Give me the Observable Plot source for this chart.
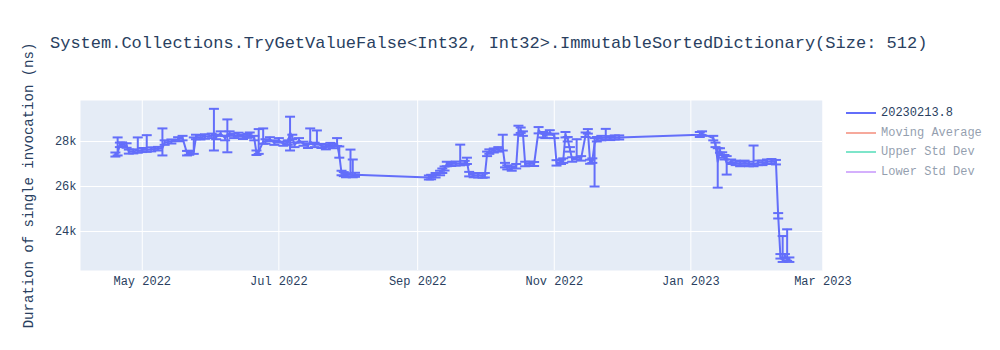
<!DOCTYPE html>
<html><head><meta charset="utf-8">
<script src="https://cdn.jsdelivr.net/npm/d3@7"></script>
<script src="https://cdn.jsdelivr.net/npm/@observablehq/plot@0.6"></script>
<style>
body{margin:0;background:#fff;}
#wrap{position:relative;width:1000px;height:350px;font-family:"Liberation Mono",monospace;}
#chart{position:absolute;left:0;top:0;}
#title{position:absolute;left:50px;top:34px;font-size:17px;color:#2a3f5f;white-space:pre;}
#legend{position:absolute;left:846px;top:103px;font-size:12px;color:#2a3f5f;}
.item{display:flex;align-items:center;height:19.7px;white-space:pre;}
.sw{width:30px;height:2px;margin-right:5px;}
#chart svg [aria-label="y-axis label"] text{font-size:14px;}
</style></head>
<body><div id="wrap"><div id="chart"></div><div id="title"></div><div id="legend"></div></div>
<script>
const titleText = "System.Collections.TryGetValueFalse<Int32, Int32>.ImmutableSortedDictionary(Size: 512)";
const yLabel = "Duration of single invocation (ns)";
const seriesNames = ["20230213.8", "Moving Average", "Upper Std Dev", "Lower Std Dev"];
const seriesColors = ["#636EFA", "#EF553B", "#00CC96", "#AB63FA"];
const seriesVisible = [true, false, false, false];
const xTicks = ["2022-05-01", "2022-07-01", "2022-09-01", "2022-11-01", "2023-01-01", "2023-03-01"];
const yTicks = [24000, 26000, 28000];

const dates = [
"2022-04-19","2022-04-20","2022-04-21","2022-04-22","2022-04-24","2022-04-25","2022-04-27","2022-04-29","2022-05-01","2022-05-03",
"2022-05-05","2022-05-08","2022-05-10","2022-05-11","2022-05-14","2022-05-17","2022-05-19","2022-05-21","2022-05-22","2022-05-24",
"2022-05-25","2022-05-27","2022-05-29","2022-06-01","2022-06-02","2022-06-03","2022-06-05","2022-06-07","2022-06-08","2022-06-09",
"2022-06-11","2022-06-13","2022-06-15","2022-06-17","2022-06-18","2022-06-20","2022-06-21","2022-06-22","2022-06-24","2022-06-25",
"2022-06-27","2022-06-29","2022-07-01","2022-07-03","2022-07-05","2022-07-06","2022-07-07","2022-07-08","2022-07-10","2022-07-12",
"2022-07-14","2022-07-15","2022-07-17","2022-07-18","2022-07-20","2022-07-22","2022-07-24","2022-07-25","2022-07-27","2022-07-28",
"2022-07-29","2022-07-30","2022-07-31","2022-08-02","2022-08-03","2022-08-04","2022-09-06","2022-09-07","2022-09-09","2022-09-11",
"2022-09-12","2022-09-13","2022-09-14","2022-09-16","2022-09-18","2022-09-20","2022-09-22","2022-09-23","2022-09-24","2022-09-26",
"2022-09-28","2022-09-30","2022-10-01","2022-10-02","2022-10-03","2022-10-05","2022-10-07","2022-10-09","2022-10-10","2022-10-11",
"2022-10-13","2022-10-15","2022-10-16","2022-10-17","2022-10-18","2022-10-19","2022-10-21","2022-10-23","2022-10-25","2022-10-27",
"2022-10-28","2022-10-30","2022-11-01","2022-11-02","2022-11-04","2022-11-05","2022-11-06","2022-11-07","2022-11-08","2022-11-09",
"2022-11-11","2022-11-13","2022-11-15","2022-11-16","2022-11-17","2022-11-18","2022-11-19","2022-11-20","2022-11-22","2022-11-24",
"2022-11-26","2022-11-28","2022-11-30","2023-01-05","2023-01-06","2023-01-11","2023-01-12","2023-01-13","2023-01-14","2023-01-15",
"2023-01-16","2023-01-17","2023-01-19","2023-01-21","2023-01-23","2023-01-25","2023-01-27","2023-01-29","2023-01-31","2023-02-02",
"2023-02-04","2023-02-06","2023-02-08","2023-02-09","2023-02-10","2023-02-11","2023-02-12","2023-02-13","2023-02-14"
];
const values = [
27420,27480,27850,27870,27820,27550,27560,27600,27620,27630,
27650,27680,27700,27950,28000,28100,28150,27480,27500,27550,
28200,28180,28220,28250,28300,28200,28350,28150,28300,28350,
28250,28300,28200,28250,28300,28150,27500,27550,28000,28000,
28100,27950,28050,27900,27950,28400,28200,27850,28050,27900,
27800,28000,27850,27950,27800,27750,27850,27800,27900,27380,
26600,26550,26500,26550,26500,26520,26400,26420,26500,26600,
26700,26800,27000,27000,27020,27030,27050,27100,26550,26500,
26500,26480,26500,27450,27550,27600,27650,27700,26950,26850,
26800,26900,28400,28500,28350,27000,27020,27000,28500,28300,
28250,28400,28250,27050,27100,27150,28300,28100,27650,27200,
27300,27250,28300,28450,27100,27150,27900,28100,28150,28180,
28150,28180,28180,28300,28350,28150,27850,27100,27600,27400,
27300,27050,27100,27050,27000,27050,27000,27000,27050,27050,
27100,27120,27080,24700,22900,22750,22900,22800,22750
];
const errUp = [
90,700,100,90,100,90,90,580,90,650,
90,80,880,100,90,90,100,100,90,630,
100,90,100,100,1150,100,100,100,680,100,
100,90,90,90,100,100,100,1000,580,100,
90,100,100,90,100,700,100,100,100,90,
90,580,100,540,90,100,90,100,250,400,
100,90,90,1090,700,90,90,100,100,100,
100,90,100,90,90,830,90,180,100,90,
100,90,100,100,100,90,100,600,100,90,
100,100,300,120,100,100,90,90,140,120,
100,100,100,120,100,100,120,100,100,100,
800,100,100,100,90,100,250,100,100,380,
90,90,90,120,100,100,100,600,100,120,
100,300,100,100,100,100,100,820,100,100,
100,100,100,120,100,1050,100,1300,100
];
const errDown = [
90,100,100,90,100,90,90,100,90,90,
90,80,320,100,90,90,100,100,90,100,
100,90,100,100,700,100,100,100,780,100,
100,90,90,90,100,100,100,100,100,100,
90,100,100,90,100,800,100,100,100,90,
90,100,100,90,90,100,90,100,100,100,
100,90,90,90,90,90,90,100,100,100,
100,90,100,90,90,90,90,100,100,90,
100,90,100,100,100,90,100,100,100,90,
100,100,100,120,100,100,90,90,140,120,
100,100,100,120,100,100,120,100,100,100,
100,100,100,100,90,100,1900,100,100,90,
90,90,90,100,100,100,100,1150,100,120,
100,520,100,100,100,100,100,100,100,100,
100,100,100,120,100,100,100,100,100
];

const rows = dates.map((d, i) => ({date: new Date(d), v: values[i], lo: values[i] - errDown[i], hi: values[i] + errUp[i]}));
const capSymbol = {draw(ctx, size) { const w = Math.sqrt(size / Math.PI); ctx.moveTo(-w, 0); ctx.lineTo(w, 0); }};
const col = seriesColors[0];
const xTickDates = xTicks.map(d => new Date(d));

const chart = Plot.plot({
  width: 1000, height: 350,
  marginTop: 100, marginBottom: 80, marginLeft: 80, marginRight: 178,
  style: {fontFamily: "Liberation Mono, monospace", fontSize: "12px", color: "#2a3f5f", background: "transparent"},
  x: {type: "utc", domain: [new Date("2022-04-03T10:00Z"), new Date("2023-02-28T19:00Z")]},
  y: {domain: [22270, 29820]},
  marks: [
    Plot.frame({fill: "#E5ECF6", stroke: "none"}),
    Plot.gridX(xTickDates, {stroke: "white", strokeOpacity: 1, strokeWidth: 1}),
    Plot.gridY(yTicks, {stroke: "white", strokeOpacity: 1, strokeWidth: 1}),
    Plot.axisX({ticks: xTickDates, tickFormat: d3.utcFormat("%b %Y"), tickSize: 0, tickPadding: 6, label: null}),
    Plot.axisY({ticks: yTicks, tickFormat: d => d / 1000 + "k", tickSize: 0, tickPadding: 4, label: yLabel, labelAnchor: "center", labelArrow: "none", labelOffset: 57}),
    Plot.line(rows, {x: "date", y: "v", stroke: col, strokeWidth: 2}),
    Plot.ruleX(rows, {x: "date", y1: "lo", y2: "hi", stroke: col, strokeWidth: 2}),
    Plot.dot(rows, {x: "date", y: "hi", symbol: capSymbol, r: 5, stroke: col, strokeWidth: 2, fill: "none"}),
    Plot.dot(rows, {x: "date", y: "lo", symbol: capSymbol, r: 5, stroke: col, strokeWidth: 2, fill: "none"})
  ]
});
document.getElementById("chart").appendChild(chart);
document.getElementById("title").textContent = titleText;
const leg = document.getElementById("legend");
seriesNames.forEach((n, i) => {
  const it = document.createElement("div");
  it.className = "item";
  if (!seriesVisible[i]) it.style.opacity = 0.5;
  const sw = document.createElement("div");
  sw.className = "sw"; sw.style.background = seriesColors[i];
  const t = document.createElement("span"); t.textContent = n;
  it.appendChild(sw); it.appendChild(t); leg.appendChild(it);
});
</script>
</body></html>
